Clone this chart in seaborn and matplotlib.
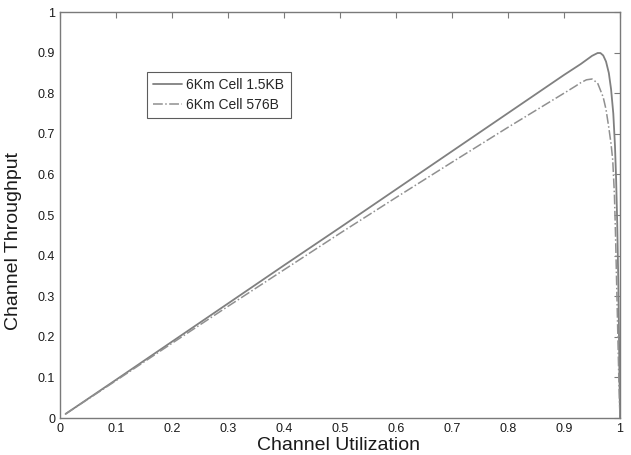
import numpy as np
import pandas as pd
import matplotlib
matplotlib.use("Agg")
import matplotlib.pyplot as plt
import seaborn as sns

# values
util_15kb = [0.01, 0.1, 0.2, 0.3, 0.4, 0.5, 0.6, 0.7, 0.8, 0.85, 0.9, 0.93, 0.94,
             0.95, 0.96, 0.965, 0.97, 0.975, 0.98, 0.984, 0.988, 0.991, 0.993,
             0.995, 0.997, 0.998, 0.999, 1.0]
thr_15kb = [0.01, 0.094, 0.188, 0.282, 0.376, 0.469, 0.563, 0.657, 0.751, 0.798,
            0.845, 0.872, 0.882, 0.892, 0.899, 0.899, 0.893, 0.878, 0.850, 0.810,
            0.750, 0.670, 0.590, 0.48, 0.33, 0.22, 0.10, 0.0]

util_576b = [0.01, 0.1, 0.2, 0.3, 0.4, 0.5, 0.6, 0.7, 0.8, 0.85, 0.9, 0.92, 0.93,
             0.94, 0.95, 0.96, 0.97, 0.975, 0.98, 0.984, 0.987, 0.99, 0.992,
             0.994, 0.996, 0.998, 1.0]
thr_576b = [0.01, 0.092, 0.184, 0.275, 0.365, 0.455, 0.543, 0.630, 0.716, 0.758,
            0.800, 0.817, 0.826, 0.833, 0.835, 0.825, 0.790, 0.760, 0.715, 0.675,
            0.635, 0.55, 0.45, 0.33, 0.21, 0.09, 0.0]

labels = ["6Km Cell 1.5KB", "6Km Cell 576B"]

sns.set_style("white")
plt.rcParams['font.family'] = ['Liberation Sans', 'DejaVu Sans']

grey = '#7a7a7a'
fig = plt.figure(figsize=(6.31, 4.55), dpi=100)
ax = fig.add_axes([0.095, 0.0813, 0.8876, 0.8923])

df1 = pd.DataFrame({'u': util_15kb, 't': thr_15kb})
df2 = pd.DataFrame({'u': util_576b, 't': thr_576b})
sns.lineplot(data=df1, x='u', y='t', ax=ax, color='#808080', linewidth=1.3,
             label=labels[0], sort=False)
sns.lineplot(data=df2, x='u', y='t', ax=ax, color='#909090', linewidth=1.1,
             linestyle='-.', label=labels[1], sort=False)

ax.set_xlim(0, 1)
ax.set_ylim(0, 1)
ax.set_xticks(np.arange(0, 1.01, 0.1))
ax.set_yticks(np.arange(0, 1.01, 0.1))
ax.set_xticklabels(['0', '0.1', '0.2', '0.3', '0.4', '0.5', '0.6', '0.7', '0.8', '0.9', '1'])
ax.set_yticklabels(['0', '0.1', '0.2', '0.3', '0.4', '0.5', '0.6', '0.7', '0.8', '0.9', '1'])
ax.tick_params(direction='in', top=True, right=True, length=4, color=grey,
               labelsize=9, labelcolor='#1a1a1a', width=0.8)
for s in ax.spines.values():
    s.set_color(grey)
    s.set_linewidth(1.0)

ax.set_xlabel('Channel Utilization', fontsize=14, color='#1a1a1a')
ax.set_ylabel('Channel Throughput', fontsize=14, color='#1a1a1a')
ax.xaxis.set_label_coords(0.498, -0.047)
ax.yaxis.set_label_coords(-0.068, 0.436)

leg = ax.legend(loc='upper left', bbox_to_anchor=(0.155, 0.852), fontsize=10,
                frameon=True, fancybox=False, handlelength=2.1, borderpad=0.45,
                labelspacing=0.4, handletextpad=0.3, borderaxespad=0)
leg.get_frame().set_edgecolor('#333333')
leg.get_frame().set_linewidth(0.8)

fig.savefig('out.png', dpi=100)
